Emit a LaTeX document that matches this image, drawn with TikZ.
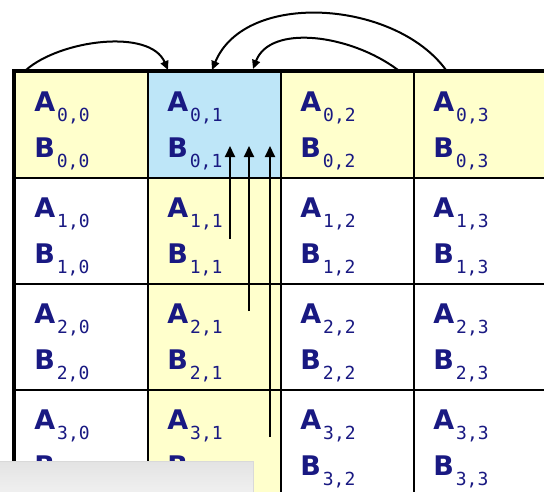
\documentclass[tikz,border=0pt]{standalone}
\usepackage{fontspec}
\newfontfamily\letterfont{DejaVu Sans}
\newfontfamily\subfont{DejaVu Sans Mono}
\usetikzlibrary{arrows.meta,calc}
\definecolor{cellyellow}{RGB}{255,255,204}
\definecolor{cellblue}{RGB}{190,230,248}
\definecolor{ink}{RGB}{25,25,130}
\newcommand{\mtx}[2]{{\fontsize{27}{27}\selectfont\letterfont\bfseries #1}\kern2pt\raisebox{-10pt}{\fontsize{18}{18}\selectfont\subfont #2}}
\tikzset{
  cell/.style={draw=black, line width=1.8pt, minimum width=133pt, minimum height=106pt, inner sep=0pt, rectangle},
  txt/.style={anchor=base west, inner sep=0pt, text=ink},
  varrow/.style={line width=2pt, -{Triangle[length=11pt,width=10pt]}},
  carrow/.style={line width=2pt, -{Triangle[length=9pt,width=8pt]}}
}
\begin{document}
\begin{tikzpicture}[x=1pt,y=-1pt]
\useasboundingbox (0,0) rectangle (544,491);
\fill[white] (0,0) rectangle (544,491);
% cells
\foreach \i/\j/\c in {0/0/cellyellow,0/1/cellblue,0/2/cellyellow,0/3/cellyellow,
  1/0/white,1/1/cellyellow,1/2/white,1/3/white,
  2/0/white,2/1/cellyellow,2/2/white,2/3/white,
  3/0/white,3/1/cellyellow,3/2/white,3/3/white}{
  \node[cell, fill=\c] (c\i\j) at ({15+133*\j+66.5},{72+106*\i+53}) {};
}
% texts
\foreach \i in {0,...,3}{
  \foreach \j in {0,...,3}{
    \node[txt] (a\i\j) at ($(c\i\j.north west)+(20,40)$) {\mtx{A}{\i,\j}};
    \node[txt] (b\i\j) at ($(c\i\j.north west)+(20,86)$) {\mtx{B}{\i,\j}};
  }
}
% thick outer border
\draw[line width=4pt] (c30.south west) -- (c00.north west) -- (c03.north east);
% vertical arrows
\coordinate (v1s) at (230,239); \coordinate (v1t) at (230,146);
\coordinate (v2s) at (249,311); \coordinate (v2t) at (249,146);
\coordinate (v3s) at (270,437); \coordinate (v3t) at (270,146);
\draw[varrow] (v1s) -- (v1t);
\draw[varrow] (v2s) -- (v2t);
\draw[varrow] (v3s) -- (v3t);
% curved arrows
\coordinate (p1s) at (26,70); \coordinate (p1t) at (168,70);
\coordinate (p2s) at (446,70); \coordinate (p2t) at (212,70);
\coordinate (p3s) at (398,70); \coordinate (p3t) at (253,69);
\draw[carrow] (p1s) .. controls (60,40) and (150,28) .. (p1t);
\draw[carrow] (p2s) .. controls (395,0) and (245,-10) .. (p2t);
\draw[carrow] (p3s) .. controls (350,34) and (270,24) .. (p3t);
% grey bar at the bottom
\shade[top color=black!11, bottom color=black!6, draw=black!15] (-1,461) rectangle (253,492);
\end{tikzpicture}
\end{document}
